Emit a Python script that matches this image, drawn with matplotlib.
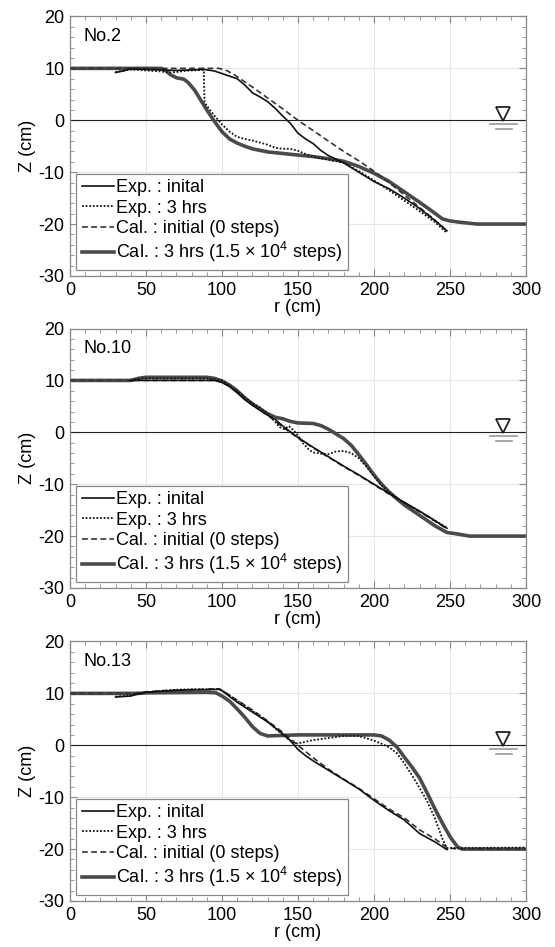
import matplotlib
matplotlib.use("Agg")
import matplotlib.pyplot as plt
from matplotlib.ticker import MultipleLocator

plt.rcParams["font.family"] = ["Liberation Sans", "DejaVu Sans"]
plt.rcParams["mathtext.fontset"] = "custom"
plt.rcParams["mathtext.rm"] = "Liberation Sans"
plt.rcParams["mathtext.it"] = "Liberation Sans"
plt.rcParams["axes.unicode_minus"] = False

# ---- No.2 ----
no2_exp_init_r = [30, 35, 40, 50, 60, 70, 80, 88, 95, 100, 105, 110, 115, 120, 125, 130, 135, 140, 145,
                  150, 155, 160, 165, 170, 175, 180, 190, 200, 210, 220, 230, 240, 248]
no2_exp_init_z = [9.2, 9.5, 9.9, 9.8, 9.7, 9.6, 9.7, 9.8, 9.5, 9.0, 8.5, 8.0, 6.8, 5.3, 4.5, 3.6, 2.3, 0.8, -0.6,
                  -2.5, -3.6, -4.5, -5.8, -6.8, -7.5, -8.2, -10.0, -11.8, -13.2, -15.0, -17.0, -19.3, -21.3]
no2_exp_3h_r = [30, 40, 50, 60, 65, 70, 75, 80, 88, 88.5, 90, 95, 100, 105, 110, 115, 120, 130, 135, 140,
                145, 150, 155, 160, 170, 180, 190, 200, 210, 220, 230, 240, 248]
no2_exp_3h_z = [9.3, 9.8, 9.6, 9.4, 9.2, 9.3, 9.5, 9.6, 9.7, 3.5, 2.8, 0.9, -0.8, -2.2, -3.2, -3.6, -3.9, -4.7, -5.3, -5.5,
                -5.5, -5.9, -6.5, -7.0, -7.6, -8.2, -9.8, -11.6, -13.5, -15.5, -17.5, -19.6, -21.7]
no2_cal_init_r = [0, 98, 103, 108, 115, 120, 130, 140, 150, 160, 170, 180, 190, 200, 210, 220, 230, 240, 248]
no2_cal_init_z = [10, 10, 9.6, 8.8, 7.4, 6.4, 4.3, 2.2, 0.0, -2.0, -4.0, -6.0, -7.8, -9.8, -12.0, -14.4, -16.8, -19.2, -21.3]
no2_cal_3h_r = [0, 60, 63, 66, 70, 75, 78, 82, 86, 90, 95, 100, 105, 110, 115, 120, 130, 140, 150, 160, 170,
                180, 190, 200, 210, 220, 230, 240, 245, 250, 258, 268, 300]
no2_cal_3h_z = [10, 10, 9.6, 8.8, 8.2, 7.9, 7.2, 5.8, 3.9, 2.0, -0.2, -2.2, -3.6, -4.4, -5.0, -5.5, -6.1, -6.4, -6.7, -7.0, -7.4,
                -7.9, -8.9, -10.2, -11.8, -13.8, -15.8, -17.9, -19.0, -19.4, -19.7, -20, -20]

# ---- No.10 ----
no10_exp_init_r = [40, 95, 100, 105, 110, 115, 120, 130, 135, 140, 145, 150, 160, 170, 180, 190, 200, 210, 220, 230, 240, 248]
no10_exp_init_z = [10, 10, 9.6, 8.8, 7.6, 6.3, 5.2, 3.3, 2.5, 1.2, 0.1, -1.0, -2.9, -4.7, -6.5, -8.2, -10.0, -11.8, -13.5, -15.2, -17.0, -18.5]
no10_exp_3h_r = [40, 48, 90, 100, 110, 115, 120, 125, 130, 135, 138, 141, 144, 147, 150, 153, 157, 160, 165, 170,
                 175, 180, 185, 190, 195, 200, 205, 210, 220, 230, 240, 248]
no10_exp_3h_z = [10, 10.4, 10.4, 10.0, 8.0, 6.8, 5.6, 4.8, 3.6, 2.0, 1.0, 0.6, 1.2, 0.4, -0.6, -2.0, -3.3, -3.9, -4.1, -4.2,
                 -3.7, -3.6, -4.0, -5.0, -6.6, -8.5, -10.2, -11.6, -13.6, -15.2, -17.0, -18.4]
no10_cal_init_r = [0, 95, 100, 105, 110, 120, 130, 140, 150, 160, 170, 180, 190, 200, 210, 220, 230, 240, 248]
no10_cal_init_z = [10, 10, 9.7, 9.0, 7.8, 5.5, 3.3, 1.0, -1.1, -3.0, -4.8, -6.6, -8.3, -10.1, -11.9, -13.6, -15.3, -17.1, -18.6]
no10_cal_3h_r = [0, 40, 45, 50, 90, 95, 100, 105, 110, 115, 120, 125, 130, 135, 140, 145, 150, 160, 165, 170,
                 175, 180, 185, 190, 195, 200, 205, 210, 215, 220, 230, 240, 248, 255, 263, 300]
no10_cal_3h_z = [10, 10, 10.4, 10.6, 10.6, 10.4, 9.9, 9.1, 8.0, 6.6, 5.5, 4.5, 3.6, 2.9, 2.6, 2.1, 1.8, 1.7, 1.3, 0.6,
                 -0.3, -1.2, -2.5, -4.3, -6.2, -8.2, -10.0, -11.5, -12.8, -14.0, -16.0, -18.0, -19.3, -19.6, -20, -20]

# ---- No.13 ----
no13_exp_init_r = [30, 40, 45, 50, 60, 70, 80, 90, 98, 100, 105, 110, 120, 130, 140, 145, 150, 155, 160,
                   170, 180, 190, 200, 210, 220, 230, 240, 248]
no13_exp_init_z = [9.3, 9.5, 9.9, 10.2, 10.4, 10.6, 10.7, 10.7, 10.8, 10.5, 9.4, 8.3, 6.4, 4.5, 2.2, 0.9, -0.8, -2.0, -3.0,
                   -4.8, -6.6, -8.4, -10.6, -12.6, -14.4, -17.0, -18.6, -20.1]
no13_exp_3h_r = [30, 40, 45, 50, 60, 70, 80, 90, 98, 100, 105, 110, 120, 130, 140, 145, 148, 152, 160, 170, 180,
                 190, 200, 205, 210, 215, 220, 225, 230, 235, 240, 245, 248, 260, 300]
no13_exp_3h_z = [9.4, 9.6, 10.0, 10.2, 10.5, 10.7, 10.8, 10.8, 10.8, 10.6, 9.6, 8.6, 6.6, 4.6, 2.0, 0.9, 0.3, 0.5, 1.0, 1.4, 1.8,
                 1.8, 0.9, 0.3, -0.4, -1.5, -3.5, -5.8, -8.2, -10.8, -14.0, -18.0, -19.8, -19.8, -19.7]
no13_cal_init_r = [0, 40, 50, 60, 80, 98, 100, 110, 120, 130, 140, 150, 160, 170, 180, 190, 200, 210, 220,
                   230, 240, 248, 255, 300]
no13_cal_init_z = [10, 10, 10.3, 10.5, 10.7, 10.9, 10.6, 8.7, 6.8, 4.7, 2.5, 0.0, -2.4, -4.6, -6.5, -8.3, -10.3, -12.3, -14.0,
                   -16.3, -18.0, -19.7, -20, -20]
no13_cal_3h_r = [0, 45, 50, 90, 96, 100, 105, 110, 115, 120, 125, 130, 140, 150, 200, 205, 210, 215, 220, 225,
                 230, 235, 240, 245, 250, 255, 258, 300]
no13_cal_3h_z = [10, 10, 10.1, 10.2, 10.1, 9.5, 8.5, 7.0, 5.4, 3.6, 2.3, 1.8, 1.9, 2.0, 2.0, 1.8, 1.0, -0.3, -2.3, -4.2,
                 -6.3, -9.2, -12.2, -15.0, -17.6, -19.6, -20, -20]

panel_names = ["No.2", "No.10", "No.13"]
legend_labels = ["Exp. : inital", "Exp. : 3 hrs", "Cal. : initial (0 steps)",
                 "Cal. : 3 hrs (1.5 × 10$^4$ steps)"]

# water level symbol
WATER_R = 285
WATER_TRI_Z = 1.2
WATER_LINES = [(276.5, 294, -0.8), (280, 291, -1.7)]

panels = [
    (no2_exp_init_r, no2_exp_init_z, no2_exp_3h_r, no2_exp_3h_z, no2_cal_init_r, no2_cal_init_z, no2_cal_3h_r, no2_cal_3h_z),
    (no10_exp_init_r, no10_exp_init_z, no10_exp_3h_r, no10_exp_3h_z, no10_cal_init_r, no10_cal_init_z, no10_cal_3h_r, no10_cal_3h_z),
    (no13_exp_init_r, no13_exp_init_z, no13_exp_3h_r, no13_exp_3h_z, no13_cal_init_r, no13_cal_init_z, no13_cal_3h_r, no13_cal_3h_z),
]

fig = plt.figure(figsize=(5.55, 9.47), dpi=100)
bottoms = [0.7086, 0.3791, 0.0486]
fs = 13

for i, (name, data) in enumerate(zip(panel_names, panels)):
    ax = fig.add_axes([0.1261, bottoms[i], 0.8216, 0.274])
    ax.set_axisbelow(True)
    er, ez, e3r, e3z, cr, cz, c3r, c3z = data

    ax.axhline(0, color="#222222", lw=0.8, zorder=1.8)
    ax.plot(er, ez, color="#111111", lw=1.2, label=legend_labels[0], zorder=4)
    ax.plot(e3r, e3z, color="#111111", lw=1.3, ls=(0, (1, 1)), label=legend_labels[1], zorder=4)
    ax.plot(cr, cz, color="#333333", lw=1.2, ls=(0, (3.5, 2)), label=legend_labels[2], zorder=3)
    ax.plot(c3r, c3z, color="#4a4a4a", lw=2.6, label=legend_labels[3], zorder=2)

    # water level mark
    ax.plot([WATER_R], [WATER_TRI_Z], marker="v", ms=10, mfc="white", mec="#222222", mew=1.3, zorder=5)
    for x0, x1, z in WATER_LINES:
        ax.plot([x0, x1], [z, z], color="#999999", lw=1.2, zorder=5)

    ax.set_xlim(0, 300)
    ax.set_ylim(-30, 20)
    ax.xaxis.set_major_locator(MultipleLocator(50))
    ax.xaxis.set_minor_locator(MultipleLocator(10))
    ax.yaxis.set_major_locator(MultipleLocator(10))
    ax.yaxis.set_minor_locator(MultipleLocator(2))
    ax.grid(True, which="major", color="#e6e6e6", lw=0.8)
    ax.tick_params(which="both", direction="in", top=True, right=True, color="#888888", labelsize=fs, pad=4)
    ax.tick_params(which="major", length=5)
    ax.tick_params(which="minor", length=3)
    for sp in ax.spines.values():
        sp.set_color("#888888")
        sp.set_linewidth(0.9)

    ax.set_xlabel("r (cm)", fontsize=fs, labelpad=0)
    ax.set_ylabel("Z (cm)", fontsize=fs, labelpad=2)
    ax.text(0.03, 0.955, name, transform=ax.transAxes, fontsize=fs, va="top", ha="left")

    leg = ax.legend(loc="lower left", fontsize=fs, handlelength=1.8, handletextpad=0.1,
                    labelspacing=0.18, borderpad=0.3, borderaxespad=0.35,
                    fancybox=False, framealpha=1, edgecolor="#888888")
    leg.get_frame().set_linewidth(0.9)

fig.savefig("out.png", dpi=100)
